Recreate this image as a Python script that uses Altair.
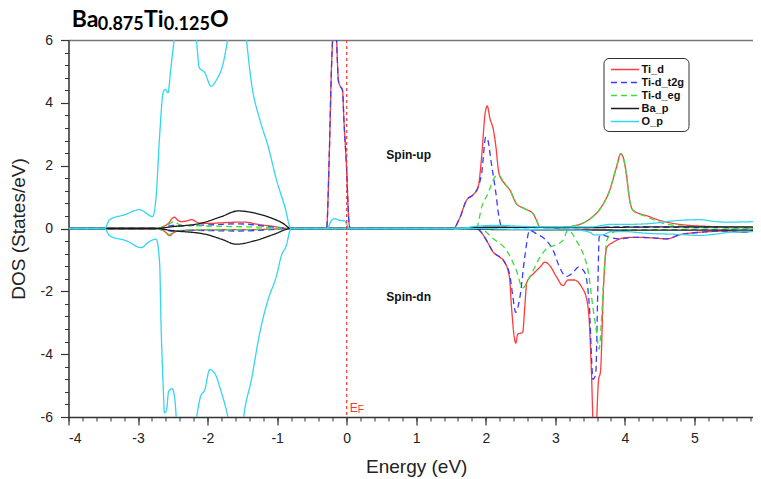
import altair as alt
import pandas as pd

# ---------------- data ----------------
orbitals = ["Ti_d", "Ti-d_t2g", "Ti-d_eg", "Ba_p", "O_p"]
colors = ["#ff3b3b", "#3b3bff", "#3ddc3d", "#1a1a1a", "#33d6f0"]
dashes = [[1, 0], [6, 4], [6, 4], [1, 0], [1, 0]]

x_ticks = [-4, -3, -2, -1, 0, 1, 2, 3, 4, 5, 6]
y_ticks = [-6, -4, -2, 0, 2, 4, 6]
x_minor = [round(-4 + 0.2 * i, 1) for i in range(51)]
y_minor = [round(-6 + 0.4 * i, 1) for i in range(31)]

ti_d_up = [(-4, 0), (-2.75, 0), (-2.65, 0.05), (-2.57, 0.15), (-2.48, 0.36), (-2.42, 0.25),
           (-2.38, 0.22), (-2.30, 0.24), (-2.23, 0.28), (-2.13, 0.18), (-2.0, 0.16), (-1.8, 0.18),
           (-1.6, 0.2), (-1.45, 0.2), (-1.3, 0.14), (-1.1, 0.08), (-0.8, 0), (-0.29, 0),
           (-0.25, 2.38), (-0.22, 5.04), (-0.185, 6.4), (-0.15, 6.1), (-0.12, 4.72), (-0.10, 4.56),
           (-0.06, 4.40), (-0.04, 3.45), (0.0, 1.85), (0.03, 0.26), (0.05, 0), (1.53, 0),
           (1.63, 0.36), (1.72, 0.89), (1.82, 1.08), (1.89, 1.32), (1.94, 2.28), (1.99, 3.66),
           (2.02, 3.90), (2.06, 3.50), (2.11, 3.13), (2.14, 2.70), (2.19, 1.75), (2.27, 1.43),
           (2.35, 1.21), (2.44, 0.79), (2.56, 0.63), (2.68, 0.47), (2.73, 0.26), (2.78, 0.04),
           (3.0, 0.02), (3.3, 0.1), (3.5, 0.31), (3.66, 0.68), (3.78, 1.21), (3.88, 1.96),
           (3.94, 2.38), (3.97, 2.3), (4.02, 1.75), (4.07, 0.89), (4.12, 0.57), (4.31, 0.41),
           (4.50, 0.26), (4.79, 0.13), (5.27, 0.06), (5.94, 0.03), (6, 0.03)]
ti_d_dn = [(-4, 0), (-2.75, 0), (-2.65, -0.05), (-2.6, -0.13), (-2.55, -0.23), (-2.48, -0.12),
           (-2.4, -0.07), (-2.2, -0.05), (-1.8, -0.04), (-1.2, -0.03), (-0.8, 0), (1.85, 0),
           (1.91, -0.06), (2.01, -0.38), (2.11, -0.76), (2.20, -0.91), (2.27, -1.07), (2.34, -1.55),
           (2.37, -2.51), (2.41, -3.47), (2.43, -3.65), (2.46, -3.36), (2.53, -3.31), (2.56, -2.51),
           (2.59, -1.71), (2.68, -1.45), (2.78, -1.23), (2.85, -1.07), (2.92, -1.18), (3.02, -1.55),
           (3.11, -1.82), (3.18, -1.64), (3.27, -1.64), (3.38, -1.87), (3.45, -2.25), (3.49, -3.04),
           (3.52, -4.64), (3.55, -6.5), (3.58, -6.5), (3.62, -4.85), (3.65, -4.53), (3.69, -1.98),
           (3.74, -0.6), (3.83, -0.44), (3.98, -0.3), (4.12, -0.28), (4.41, -0.30), (4.60, -0.33),
           (4.79, -0.20), (5.08, -0.12), (5.51, -0.08), (5.70, -0.12), (5.94, -0.04), (6, -0.03)]
t2g_up = [(-4, 0), (-2.75, 0), (-2.6, 0.05), (-2.5, 0.1), (-2.4, 0.08), (-2.2, 0.1), (-1.9, 0.12),
          (-1.6, 0.15), (-1.45, 0.14), (-1.2, 0.08), (-0.8, 0), (-0.29, 0), (-0.25, 2.38),
          (-0.22, 5.04), (-0.185, 6.4), (-0.15, 6.1), (-0.12, 4.72), (-0.10, 4.56), (-0.06, 4.40),
          (-0.04, 3.45), (0.0, 1.85), (0.03, 0.26), (0.05, 0), (1.53, 0), (1.63, 0.36), (1.72, 0.89),
          (1.82, 1.08), (1.89, 1.32), (1.94, 1.75), (2.0, 2.91), (2.03, 2.81), (2.08, 2.07),
          (2.14, 1.21), (2.19, 0.36), (2.23, 0.04), (2.5, 0.03), (3.5, 0.03), (4.0, 0.05),
          (5, 0.03), (6, 0.02)]
t2g_dn = [(-4, 0), (-2.7, 0), (-2.6, -0.05), (-2.5, -0.08), (-2.2, -0.06), (-1.6, -0.08),
          (-1.2, -0.05), (-0.8, 0), (1.85, 0), (1.91, -0.06), (2.01, -0.38), (2.11, -0.76),
          (2.20, -0.91), (2.27, -1.07), (2.35, -1.55), (2.39, -2.19), (2.43, -2.67), (2.49, -2.19),
          (2.56, -0.91), (2.63, -0.06), (2.73, -0.17), (2.87, -0.38), (2.97, -0.70), (3.06, -1.23),
          (3.16, -1.53), (3.26, -1.39), (3.33, -1.23), (3.42, -1.39), (3.49, -2.51), (3.52, -4.11),
          (3.54, -4.80), (3.58, -4.64), (3.61, -1.98), (3.63, -0.28), (3.66, -0.2), (3.78, -0.28),
          (3.93, -0.33), (4.12, -0.28), (4.41, -0.30), (4.60, -0.33), (4.79, -0.20), (5.08, -0.12),
          (5.51, -0.08), (5.70, -0.12), (5.94, -0.04), (6, -0.03)]
eg_up = [(-4, 0), (-2.75, 0), (-2.6, 0.08), (-2.48, 0.22), (-2.4, 0.12), (-2.3, 0.1), (-2.0, 0.08),
         (-1.6, 0.06), (-1.2, 0.04), (-0.8, 0), (1.8, 0), (1.87, 0.04), (1.94, 0.68), (2.03, 1.11),
         (2.13, 1.64), (2.18, 1.71), (2.27, 1.43), (2.35, 1.21), (2.44, 0.79), (2.56, 0.63),
         (2.68, 0.47), (2.73, 0.26), (2.78, 0.04), (3.0, 0.02), (3.3, 0.1), (3.5, 0.31), (3.66, 0.68),
         (3.78, 1.21), (3.88, 1.96), (3.94, 2.38), (3.97, 2.3), (4.02, 1.75), (4.07, 0.89),
         (4.12, 0.57), (4.31, 0.38), (4.5, 0.2), (4.79, 0.08), (5.27, 0.04), (6, 0.02)]
eg_dn = [(-4, 0), (-2.75, 0), (-2.6, -0.1), (-2.55, -0.2), (-2.48, -0.1), (-2.2, -0.04),
         (-1.6, -0.04), (-0.8, 0), (1.91, 0), (2.11, -0.33), (2.30, -0.70), (2.44, -1.34),
         (2.53, -1.89), (2.63, -1.55), (2.78, -0.91), (2.87, -0.65), (3.02, -0.51), (3.11, -0.38),
         (3.18, -0.06), (3.22, -0.1), (3.30, -0.38), (3.40, -0.81), (3.47, -1.34), (3.54, -2.51),
         (3.59, -3.26), (3.63, -3.84), (3.66, -3.04), (3.70, -1.45), (3.74, -0.38), (3.83, -0.12),
         (4.0, -0.05), (5, -0.03), (6, -0.02)]
ba_p_up = [(-4, 0), (-2.75, 0), (-2.5, 0.06), (-2.09, 0.17), (-1.80, 0.38), (-1.56, 0.56),
           (-1.32, 0.49), (-1.08, 0.33), (-0.92, 0.17), (-0.8, 0), (1.5, 0), (2.0, 0.04),
           (3.5, 0.03), (4.5, 0.05), (6, 0.05)]
ba_p_dn = [(-4, 0), (-2.75, 0), (-2.5, -0.07), (-2.04, -0.18), (-1.80, -0.34), (-1.59, -0.5),
           (-1.32, -0.39), (-1.04, -0.18), (-0.8, 0), (1.5, 0), (2.0, -0.03), (4.5, -0.05),
           (6, -0.05)]
o_p_up = [(-4, 0), (-3.48, 0), (-3.41, 0.28), (-3.19, 0.44), (-2.98, 0.60), (-2.79, 0.38),
          (-2.74, 1.02), (-2.69, 2.94), (-2.64, 4.32), (-2.61, 4.43), (-2.57, 4.32), (-2.53, 5.07),
          (-2.48, 6.02), (-2.40, 7.5), (-2.25, 7.5), (-2.16, 6.0), (-2.12, 5.12), (-2.04, 4.96),
          (-1.95, 4.53), (-1.87, 4.74), (-1.78, 5.22), (-1.71, 6.02), (-1.6, 7.5), (-1.5, 7.5),
          (-1.44, 6.0), (-1.37, 4.64), (-1.25, 3.47), (-1.13, 2.62), (-1.01, 1.55), (-0.89, 0.70),
          (-0.80, 0.0), (-0.28, 0), (-0.22, 0.25), (-0.17, 0.31), (-0.10, 0.26), (-0.03, 0.24),
          (0.04, 0), (1.6, 0), (1.9, 0.08), (2.2, 0.1), (2.5, 0.07), (3.0, 0.05), (3.5, 0.05),
          (3.8, 0.13), (4.0, 0.13), (4.31, 0.15), (4.79, 0.26), (5.08, 0.28), (5.3, 0.22),
          (5.51, 0.2), (5.7, 0.21), (5.94, 0.22), (6, 0.22)]
o_p_dn = [(-4, 0), (-3.48, 0), (-3.41, -0.23), (-3.17, -0.39), (-2.95, -0.61), (-2.86, -0.45),
          (-2.74, -0.34), (-2.69, -1.09), (-2.67, -3.0), (-2.64, -4.92), (-2.62, -5.87),
          (-2.59, -5.77), (-2.56, -5.18), (-2.51, -5.10), (-2.47, -5.45), (-2.45, -6.03),
          (-2.35, -7.5), (-2.25, -7.5), (-2.16, -6.03), (-2.10, -5.34), (-2.04, -5.13),
          (-1.97, -4.49), (-1.90, -4.60), (-1.80, -5.23), (-1.71, -5.98), (-1.6, -7.5),
          (-1.55, -7.5), (-1.48, -5.98), (-1.37, -4.81), (-1.25, -3.32), (-1.13, -2.26),
          (-1.01, -1.51), (-0.94, -0.87), (-0.87, -0.55), (-0.80, 0), (1.6, 0), (2.5, -0.03),
          (3.3, -0.05), (3.5, -0.12), (3.55, -0.2), (3.68, -0.2), (3.8, -0.1), (4.0, -0.1),
          (4.3, -0.15), (4.79, -0.19), (5.08, -0.22), (5.3, -0.18), (5.51, -0.12), (5.94, -0.1),
          (6, -0.1)]

series = [("Ti_d", "up", ti_d_up), ("Ti_d", "dn", ti_d_dn),
          ("Ti-d_t2g", "up", t2g_up), ("Ti-d_t2g", "dn", t2g_dn),
          ("Ti-d_eg", "up", eg_up), ("Ti-d_eg", "dn", eg_dn),
          ("Ba_p", "up", ba_p_up), ("Ba_p", "dn", ba_p_dn),
          ("O_p", "up", o_p_up), ("O_p", "dn", o_p_dn)]

rows = []
for orb, spin, pts in series:
    for e, v in pts:
        rows.append({"orbital": orb, "spin": spin, "E": e, "DOS": v})
df = pd.DataFrame(rows)

FONT = "Liberation Sans"
TITLE_FONT = "Lato"

# plot area: 684.5 px visible of a 695.5 px wide x range (the reference crops the right edge)
xscale = alt.Scale(domain=[-4, 6], range=[0, 695.5], nice=False, zero=False)
yscale = alt.Scale(domain=[-6, 6], nice=False, zero=False)

color_enc = alt.Color("orbital:N", scale=alt.Scale(domain=orbitals, range=colors),
                      sort=orbitals,
                      legend=alt.Legend(title=None, orient="none", legendX=535, legendY=18,
                                        symbolType="M-0.6,0H3.6", symbolSize=180,
                                        symbolStrokeWidth=1.5, labelFont=FONT,
                                        labelFontSize=11, labelFontWeight="bold",
                                        labelColor="#111", padding=4, rowPadding=0,
                                        strokeColor="#333", cornerRadius=5, fillColor="white",
                                        labelOffset=19))
dash_enc = alt.StrokeDash("orbital:N", scale=alt.Scale(domain=orbitals, range=dashes),
                          sort=orbitals, legend=alt.Legend(title=None))

x_major = alt.Axis(values=x_ticks, title="Energy (eV)", tickSize=8, tickWidth=1.2,
                   labelFont=FONT, labelFontSize=14, labelColor="#222", labelPadding=6,
                   labelExpr="'' + datum.value", titleFont=FONT, titleFontSize=19,
                   titleFontWeight="normal", titleColor="#222", titlePadding=12,
                   domainColor="#333", domainWidth=1.5, tickColor="#333", grid=False,
                   orient="bottom")
y_major = alt.Axis(values=y_ticks, title="DOS (States/eV)", tickSize=8, tickWidth=1.2,
                   labelFont=FONT, labelFontSize=14, labelColor="#222", labelPadding=8,
                   labelExpr="'' + datum.value", titleFont=FONT, titleFontSize=19,
                   titleFontWeight="normal", titleColor="#222", titlePadding=12,
                   domainColor="#333", domainWidth=1.5, tickColor="#333", grid=False,
                   orient="left")
x_min_ax = alt.Axis(values=x_minor, labels=False, title=None, tickSize=4, tickWidth=1,
                    tickColor="#333", domain=False, grid=False, orient="bottom")
y_min_ax = alt.Axis(values=y_minor, labels=False, title=None, tickSize=4, tickWidth=1,
                    tickColor="#333", domain=False, grid=False, orient="left")
x_top_ax = alt.Axis(labels=False, ticks=False, title=None, domain=True, domainColor="#777",
                    domainWidth=1.5, grid=False, orient="top")

base = alt.Chart(df)

layers = []
for i, orb in enumerate(orbitals):
    ax_x = x_major if i == 0 else None
    ax_y = y_major if i == 0 else None
    layers.append(
        base.transform_filter(alt.datum.orbital == orb)
        .mark_line(clip=True, strokeWidth=1.3, interpolate="monotone")
        .encode(x=alt.X("E:Q", scale=xscale, axis=ax_x),
                y=alt.Y("DOS:Q", scale=yscale, axis=ax_y),
                color=color_enc, strokeDash=dash_enc, detail="spin:N")
    )

minor = base.mark_point(opacity=0, size=1).encode(
    x=alt.X("E:Q", scale=xscale, axis=x_min_ax),
    y=alt.Y("DOS:Q", scale=yscale, axis=y_min_ax))
top_border = base.mark_point(opacity=0, size=1).encode(
    x=alt.X("E:Q", scale=xscale, axis=x_top_ax),
    y=alt.Y("DOS:Q", scale=yscale, axis=None))

one = pd.DataFrame({"a": [0]})

ef_line = alt.Chart(one).mark_rule(color="#ff3333", strokeDash=[3, 3], strokeWidth=1.2).encode(
    x=alt.XDatum(0, axis=None))


def txt(text, x, y, size, weight="bold", color="#111", font=FONT, dy=0):
    return alt.Chart(one).mark_text(text=text, align="left", baseline="alphabetic",
                                    fontSize=size, fontWeight=weight, color=color,
                                    font=font, dy=dy).encode(x=x, y=y)


spin_up = txt("Spin-up", alt.XDatum(0.57, axis=None), alt.YDatum(2.2, axis=None), 12)
spin_dn = txt("Spin-dn", alt.XDatum(0.57, axis=None), alt.YDatum(-2.3, axis=None), 12)
ef_e = txt("E", alt.XDatum(0.045, axis=None), alt.YDatum(-5.85, axis=None), 12,
           weight="normal", color="#ff3333")
ef_f = txt("F", alt.XDatum(0.16, axis=None), alt.YDatum(-5.85, axis=None), 10,
           weight="normal", color="#ff3333", dy=1)

t1 = txt("Ba", alt.value(3.2), alt.value(-12.7), 23, font=TITLE_FONT, color="#000")
t2 = txt("0.875", alt.value(29.2), alt.value(-10.5), 18, font=TITLE_FONT, color="#000")
t3 = txt("Ti", alt.value(75.5), alt.value(-12.7), 23, font=TITLE_FONT, color="#000")
t4 = txt("0.125", alt.value(95.3), alt.value(-10.5), 18, font=TITLE_FONT, color="#000")
t5 = txt("O", alt.value(141.5), alt.value(-12.7), 23, font=TITLE_FONT, color="#000")

chart = alt.layer(*layers, minor, top_border, ef_line, spin_up, spin_dn, ef_e, ef_f,
                  t1, t2, t3, t4, t5).resolve_axis(
    x="independent", y="independent"
).properties(
    width=684.5, height=377,
    padding={"left": 60.5, "top": 32, "right": 0, "bottom": 62},
    autosize=alt.AutoSizeParams(type="none"),
).configure_view(stroke=None).configure(background="white")

chart.save("out.html", embed_options={"renderer": "svg", "actions": False})
